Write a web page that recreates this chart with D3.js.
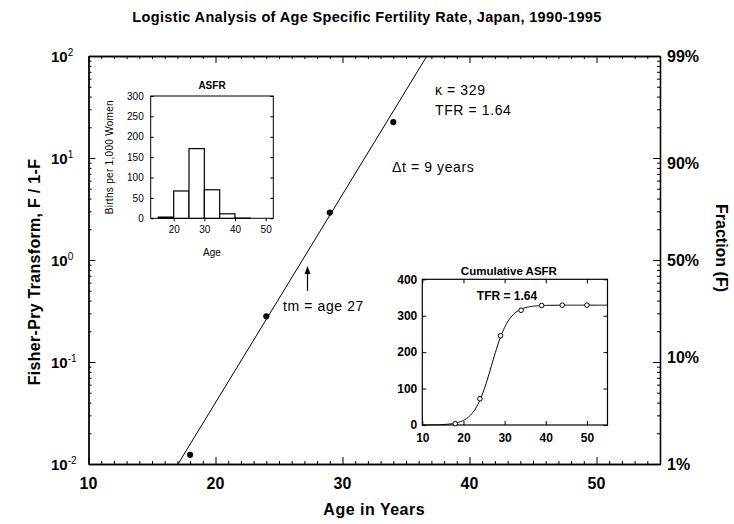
<!DOCTYPE html>
<html>
<head>
<meta charset="utf-8">
<script src="https://cdn.jsdelivr.net/npm/d3@7"></script>
<style>
  body { margin: 0; background: #fff; }
  svg { display: block; font-family: "Liberation Sans", Arial, sans-serif; }
</style>
</head>
<body>
<svg id="chart" width="734" height="524"></svg>
<script>
// Age-specific fertility rate (births per 1,000 women), Japan 1990-1995
const groupStart = [15, 20, 25, 30, 35, 40, 45];
const asfr = [3, 67, 171, 70, 11, 0.5, 0];

// Cumulative ASFR at the group mid-ages
const cumAges = [18, 24, 29, 34, 39, 44, 50];
const cumASFR = [4, 72, 245, 315, 328, 329, 329];

// Logistic fit parameters
const kappa = 329;   // saturation level
const tfr = 1.64;    // total fertility rate
const tm = 26.85;    // midpoint age
const dt = 9.35;     // 10%-90% interval, years

// Axis ticks and labels
const xMajor = [10, 20, 30, 40, 50];
const yDecades = [-2, -1, 0, 1, 2];
const fractionTicks = [0.99, 0.9, 0.5, 0.1, 0.01];
const fractionLabels = ["99%", "90%", "50%", "10%", "1%"];
const asfrYTicks = [0, 50, 100, 150, 200, 250, 300];
const asfrXTicks = [20, 30, 40, 50];
const cumYTicks = [0, 100, 200, 300, 400];
const cumXTicks = [10, 20, 30, 40, 50];

const svg = d3.select("#chart");

// ---------- main Fisher-Pry panel ----------
const M = { left: 88.5, right: 660, top: 56, bottom: 464 };
const x = d3.scaleLinear().domain([10, 55]).range([M.left, M.right]);
const y = d3.scaleLog().domain([0.01, 100]).range([M.bottom, M.top]);

const minorX = d3.range(10, 56, 1).filter(v => v % 10 !== 0);
const logMinor = [];
yDecades.slice(0, -1).forEach(e => {
  for (let k = 2; k <= 9; k++) logMinor.push(k * Math.pow(10, e));
});
const logMajor = yDecades.map(e => Math.pow(10, e));

function styleAxis(g) {
  g.select(".domain").attr("stroke", "#000").attr("stroke-width", 1.3);
  g.selectAll(".tick line").attr("stroke", "#000").attr("stroke-width", 1);
  g.selectAll(".tick text").remove();
}

const main = svg.append("g");
// bottom / top: year ticks pointing inward
main.append("g").attr("transform", `translate(0,${M.bottom})`)
  .call(d3.axisBottom(x).tickValues(minorX).tickSizeInner(-3).tickSizeOuter(0)).call(styleAxis);
main.append("g").attr("transform", `translate(0,${M.bottom})`)
  .call(d3.axisBottom(x).tickValues(xMajor.concat([55])).tickSizeInner(-7).tickSizeOuter(0)).call(styleAxis);
main.append("g").attr("transform", `translate(0,${M.top})`)
  .call(d3.axisTop(x).tickValues(minorX).tickSizeInner(-3).tickSizeOuter(0)).call(styleAxis);
main.append("g").attr("transform", `translate(0,${M.top})`)
  .call(d3.axisTop(x).tickValues(xMajor).tickSizeInner(-7).tickSizeOuter(0)).call(styleAxis);
// left / right: log ticks pointing inward
main.append("g").attr("transform", `translate(${M.left},0)`)
  .call(d3.axisLeft(y).tickValues(logMinor).tickSizeInner(-3).tickSizeOuter(0)).call(styleAxis);
main.append("g").attr("transform", `translate(${M.left},0)`)
  .call(d3.axisLeft(y).tickValues(logMajor).tickSizeInner(-7).tickSizeOuter(0)).call(styleAxis);
main.append("g").attr("transform", `translate(${M.right},0)`)
  .call(d3.axisRight(y).tickValues(logMinor).tickSizeInner(-3).tickSizeOuter(0)).call(styleAxis);
main.append("g").attr("transform", `translate(${M.right},0)`)
  .call(d3.axisRight(y).tickValues(logMajor).tickSizeInner(-7).tickSizeOuter(0)).call(styleAxis);

// x tick labels
main.selectAll(".xl").data(xMajor).join("text")
  .attr("x", d => x(d)).attr("y", M.bottom + 25)
  .attr("text-anchor", "middle").attr("font-size", 16).attr("font-weight", "bold")
  .text(d => d);

// left power-of-ten labels
const yl = main.selectAll(".yl").data(yDecades).join("text")
  .attr("x", 51).attr("y", d => y(Math.pow(10, d)) + 6)
  .attr("font-size", 15).attr("font-weight", "bold");
yl.append("tspan").text("10");
yl.append("tspan").attr("dy", -6).attr("font-size", 10).attr("font-weight", "normal").text(d => d);

// right fraction labels, placed at F/(1-F)
main.selectAll(".fl").data(fractionTicks).join("text")
  .attr("x", M.right + 7).attr("y", d => y(d / (1 - d)) + 6)
  .attr("font-size", 16).attr("font-weight", "bold")
  .text((d, i) => fractionLabels[i]);

// axis titles
svg.append("text").attr("x", (M.left + M.right) / 2).attr("y", 515)
  .attr("text-anchor", "middle").attr("font-size", 16).attr("font-weight", "bold")
  .attr("letter-spacing", 0.5).text("Age in Years");
svg.append("text").attr("transform", `translate(40,${(M.top + M.bottom) / 2 + 12}) rotate(-90)`)
  .attr("text-anchor", "middle").attr("font-size", 16).attr("font-weight", "bold")
  .attr("letter-spacing", 0.3)
  .text("Fisher-Pry Transform, F / 1-F");
svg.append("text").attr("transform", `translate(716,${(M.top + M.bottom) / 2 - 12}) rotate(90)`)
  .attr("text-anchor", "middle").attr("font-size", 16).attr("font-weight", "bold")
  .text("Fraction (F)");
svg.append("text").attr("x", 367).attr("y", 22)
  .attr("text-anchor", "middle").attr("font-size", 14.5).attr("font-weight", "bold")
  .attr("letter-spacing", 0.35)
  .text("Logistic Analysis of Age Specific Fertility Rate, Japan, 1990-1995");

// fitted logistic line: log10(F/(1-F)) = log10(81) * (t - tm) / dt
const slope = Math.log10(81) / dt;
const ageAtOdds = o => tm + Math.log10(o) / slope;
const fitLine = [0.01, 100].map(o => [ageAtOdds(o), o]);
main.append("path").datum(fitLine)
  .attr("d", d3.line().x(d => x(d[0])).y(d => y(d[1])))
  .attr("fill", "none").attr("stroke", "#000").attr("stroke-width", 1);

// observed points, F = cumulative / kappa
const obs = cumAges.map((a, i) => [a, cumASFR[i] / (kappa - cumASFR[i])])
  .filter(d => d[1] > 0.01 && d[1] < 100);
main.selectAll(".pt").data(obs).join("path")
  .attr("transform", d => `translate(${x(d[0])},${y(d[1])})`)
  .attr("d", d3.symbol(d3.symbolCircle, 30)).attr("fill", "#000");

// annotations
const ann = svg.append("g").attr("font-size", 14).attr("letter-spacing", 0.6);
ann.append("text").attr("x", 435).attr("y", 95).text(`\u03ba = ${kappa}`);
ann.append("text").attr("x", 435).attr("y", 115).text(`TFR = ${tfr.toFixed(2)}`);
ann.append("text").attr("x", 392).attr("y", 172).text(`\u0394t = ${Math.round(dt)} years`);
ann.append("text").attr("x", 283).attr("y", 311).text(`tm = age ${Math.round(tm)}`);
const ax = x(tm) + 5;
svg.append("line").attr("x1", ax).attr("x2", ax).attr("y1", 291).attr("y2", 272)
  .attr("stroke", "#000").attr("stroke-width", 1.2);
svg.append("path").attr("d", `M${ax},266 L${ax - 3},274 L${ax + 3},274 Z`).attr("fill", "#000");

// ---------- inset: ASFR histogram ----------
const A = { left: 150.7, right: 273.3, top: 96, bottom: 218.3 };
const ax1 = d3.scaleLinear().domain([12.5, 52.5]).range([A.left, A.right]);
const ay1 = d3.scaleLinear().domain([0, 300]).range([A.bottom, A.top]);
const inset1 = svg.append("g");
inset1.append("rect").attr("x", A.left).attr("y", A.top)
  .attr("width", A.right - A.left).attr("height", A.bottom - A.top)
  .attr("fill", "#fff").attr("stroke", "#000").attr("stroke-width", 1);
inset1.selectAll(".bar").data(asfr).join("rect")
  .attr("x", (d, i) => ax1(groupStart[i])).attr("y", d => ay1(d))
  .attr("width", (d, i) => ax1(groupStart[i] + 5) - ax1(groupStart[i]))
  .attr("height", d => ay1(0) - ay1(d))
  .attr("fill", "#fff").attr("stroke", "#000").attr("stroke-width", 1.2);
function smallAxis(g) {
  g.select(".domain").remove();
  g.selectAll(".tick line").attr("stroke", "#000");
}
inset1.append("g").attr("transform", `translate(${A.left},0)`)
  .call(d3.axisLeft(ay1).tickValues(asfrYTicks).tickSize(-3).tickPadding(7)).call(smallAxis)
  .selectAll("text").attr("font-size", 10).attr("font-family", "Liberation Sans, Arial");
inset1.append("g").attr("transform", `translate(${A.right},0)`)
  .call(d3.axisRight(ay1).tickValues(asfrYTicks).tickSize(-3)).call(smallAxis)
  .selectAll("text").remove();
inset1.append("g").attr("transform", `translate(0,${A.bottom})`)
  .call(d3.axisBottom(ax1).tickValues(asfrXTicks).tickSize(3).tickPadding(5)).call(smallAxis)
  .selectAll("text").attr("font-size", 10).attr("font-family", "Liberation Sans, Arial");
inset1.append("text").attr("x", (A.left + A.right) / 2).attr("y", 89)
  .attr("text-anchor", "middle").attr("font-size", 10).attr("font-weight", "bold").text("ASFR");
inset1.append("text").attr("x", (A.left + A.right) / 2).attr("y", 256)
  .attr("text-anchor", "middle").attr("font-size", 10).text("Age");
inset1.append("text").attr("transform", `translate(113,${(A.top + A.bottom) / 2}) rotate(-90)`)
  .attr("text-anchor", "middle").attr("font-size", 10).attr("letter-spacing", 0.3)
  .text("Births per 1,000 Women");

// ---------- inset: cumulative ASFR ----------
const C = { left: 422.3, right: 607.5, top: 279.3, bottom: 425 };
const cx = d3.scaleLinear().domain([10, 55]).range([C.left, C.right]);
const cy = d3.scaleLinear().domain([0, 400]).range([C.bottom, C.top]);
const inset2 = svg.append("g");
inset2.append("rect").attr("x", C.left).attr("y", C.top)
  .attr("width", C.right - C.left).attr("height", C.bottom - C.top)
  .attr("fill", "#fff").attr("stroke", "#000").attr("stroke-width", 1.2);
inset2.append("g").attr("transform", `translate(0,${C.bottom})`)
  .call(d3.axisBottom(cx).tickValues(cumXTicks).tickSize(-4).tickPadding(8)).call(smallAxis)
  .selectAll("text").attr("font-size", 12).attr("font-weight", "bold").attr("font-family", "Liberation Sans, Arial");
inset2.append("g").attr("transform", `translate(0,${C.top})`)
  .call(d3.axisTop(cx).tickValues(cumXTicks).tickSize(-4)).call(smallAxis)
  .selectAll("text").remove();
inset2.append("g").attr("transform", `translate(${C.left},0)`)
  .call(d3.axisLeft(cy).tickValues(cumYTicks).tickSize(-4).tickPadding(5)).call(smallAxis)
  .selectAll("text").attr("font-size", 12).attr("font-weight", "bold").attr("font-family", "Liberation Sans, Arial");
inset2.append("g").attr("transform", `translate(${C.right},0)`)
  .call(d3.axisRight(cy).tickValues(cumYTicks).tickSize(-4)).call(smallAxis)
  .selectAll("text").remove();
// logistic fit in cumulative form
const fitAges = d3.range(10, 55.01, 0.25);
inset2.append("path")
  .datum(fitAges.map(t => [t, kappa / (1 + Math.pow(10, -slope * (t - tm)))]))
  .attr("d", d3.line().x(d => cx(d[0])).y(d => cy(d[1])))
  .attr("fill", "none").attr("stroke", "#000").attr("stroke-width", 1);
inset2.selectAll(".cp").data(cumAges).join("circle")
  .attr("cx", d => cx(d)).attr("cy", (d, i) => cy(cumASFR[i])).attr("r", 2.3)
  .attr("fill", "#fff").attr("stroke", "#000").attr("stroke-width", 1);
inset2.append("text").attr("x", (C.left + C.right) / 2 - 6).attr("y", 275)
  .attr("text-anchor", "middle").attr("font-size", 11.5).attr("font-weight", "bold")
  .text("Cumulative ASFR");
inset2.append("text").attr("x", 507).attr("y", 299.5)
  .attr("text-anchor", "middle").attr("font-size", 12).attr("font-weight", "bold")
  .text(`TFR = ${tfr.toFixed(2)}`);
</script>
</body>
</html>
